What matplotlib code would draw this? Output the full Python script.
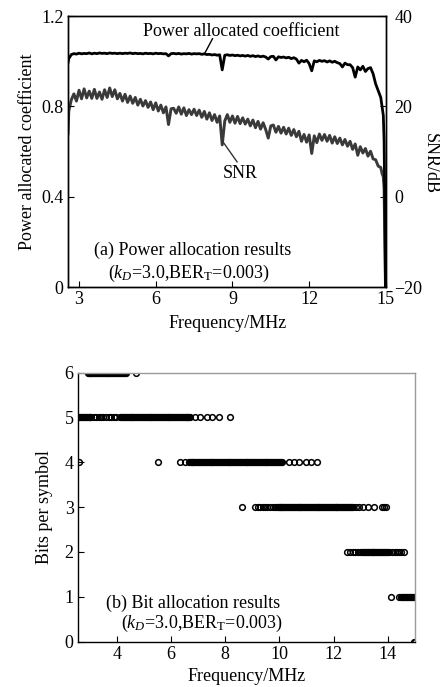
import numpy as np
import matplotlib
matplotlib.use("Agg")
import matplotlib.pyplot as plt

plt.rcParams["font.family"] = ["Liberation Serif", "DejaVu Serif"]
plt.rcParams["mathtext.fontset"] = "custom"
plt.rcParams["mathtext.rm"] = "Liberation Serif"
plt.rcParams["mathtext.it"] = "Liberation Serif:italic"
plt.rcParams["font.size"] = 13

# ---- (a) power allocation: curves read on a 0.1 MHz grid (2.6 .. 14.5) ----
grid_start, grid_stop, grid_step = 2.6, 14.5, 0.1
head_freq = [2.57]
tail_freq = [14.6, 14.7, 14.8, 14.85, 14.9, 14.93, 14.96, 14.985]

power_head = [0.995]
power_grid = [
    1.012, 1.030, 1.034, 1.032, 1.036, 1.033, 1.035, 1.034, 1.037, 1.033,
    1.036, 1.034, 1.037, 1.035, 1.036, 1.034, 1.037, 1.035, 1.036, 1.034,
    1.036, 1.034, 1.036, 1.035, 1.037, 1.034, 1.036, 1.034, 1.035, 1.033,
    1.036, 1.034, 1.035, 1.033, 1.036, 1.034, 1.035, 1.033, 1.034, 1.024,
    1.034, 1.035, 1.033, 1.035, 1.032, 1.034, 1.033, 1.035, 1.032, 1.034,
    1.033, 1.034, 1.031, 1.033, 1.030, 1.031, 1.028, 1.030, 1.027, 1.029,
    0.962, 1.027, 1.029, 1.026, 1.028, 1.025, 1.027, 1.024, 1.026, 1.023,
    1.026, 1.022, 1.025, 1.021, 1.024, 1.020, 1.023, 1.019, 1.010, 1.021,
    1.022, 1.006, 1.020, 1.017, 1.019, 1.015, 1.018, 1.012, 1.016, 1.010,
    0.992, 1.004, 0.998, 1.005, 0.990, 0.958, 1.002, 0.998, 1.004, 1.000,
    1.003, 0.997, 1.002, 0.996, 1.000, 0.994, 0.990, 0.975, 0.992, 0.985,
    0.985, 0.972, 0.930, 0.975, 0.962, 0.978, 0.955, 0.968, 0.972, 0.945,
]
power_tail = [0.90, 0.87, 0.84, 0.80, 0.76, 0.65, 0.35, 0.0]

snr_head = [14.0]
snr_grid = [
    19.0, 21.5, 22.8, 21.2, 23.6, 21.7, 23.9, 21.9, 23.4, 21.8,
    23.8, 21.8, 23.2, 21.6, 23.7, 22.0, 24.1, 22.2, 23.7, 21.7,
    22.9, 21.2, 22.7, 20.9, 22.3, 20.7, 22.0, 20.3, 21.6, 20.1,
    21.3, 19.8, 21.0, 19.3, 20.8, 19.0, 20.3, 18.6, 19.9, 16.0,
    19.5, 19.6, 18.5, 19.9, 18.3, 19.7, 18.0, 19.3, 18.2, 19.4,
    18.0, 19.2, 17.6, 18.9, 17.2, 18.6, 16.9, 18.2, 16.5, 17.9,
    11.5, 16.8, 18.2, 16.5, 17.9, 16.3, 17.8, 16.2, 17.5, 16.1,
    17.2, 15.7, 17.0, 15.3, 16.7, 15.0, 16.4, 14.9, 13.0, 15.7,
    15.9, 14.3, 15.6, 14.1, 15.4, 13.9, 15.2, 13.6, 14.9, 13.3,
    14.5, 12.3, 13.8, 12.1, 13.7, 9.6, 13.5, 12.0, 13.9, 12.5,
    13.8, 12.3, 13.6, 11.9, 13.3, 11.8, 13.0, 11.5, 12.7, 11.2,
    12.3, 10.5, 11.7, 9.2, 11.1, 9.7, 10.7, 9.0, 10.1, 8.4,
]
snr_tail = [8.2, 6.8, 6.5, 5.2, 4.4, 2.0, -10.0, -20.0]

# ---- (b) bit allocation ----
subcarrier_step = 0.035
# dense runs of subcarriers: (bits, start MHz, end MHz)
bit_runs = [
    (6, 2.92, 4.35),
    (5, 2.57, 3.07),
    (5, 4.12, 6.71),
    (4, 6.65, 10.1),
    (3, 9.9, 12.7),
    (2, 13.05, 14.05),
    (1, 14.5, 15.0),
]
# isolated subcarriers per bit level
bit_points = {
    6: [4.69],
    5: [3.15, 3.24, 3.33, 3.42, 3.5, 3.6, 3.7, 3.8, 3.9, 3.98,
        6.89, 7.08, 7.33, 7.51, 7.76, 8.16],
    4: [2.6, 5.50, 6.34, 6.5, 10.35, 10.54, 10.72, 10.97, 11.15, 11.37],
    3: [8.60, 9.09, 9.2, 9.3, 9.38, 9.47, 9.55, 9.65, 9.75, 9.84,
        12.82, 12.95, 13.07, 13.25, 13.5, 13.77, 13.85, 13.93],
    2: [12.51, 12.6, 12.7, 12.8, 12.9, 12.97, 14.15, 14.25, 14.33,
        14.42, 14.5, 14.6],
    1: [14.12, 14.43],
    0: [14.97, 15.0],
}


def main():
    grid = np.round(np.arange(grid_start, grid_stop + 1e-9, grid_step), 2)
    freq = np.concatenate([head_freq, grid, tail_freq])
    power = np.array(power_head + power_grid + power_tail)
    snr = np.array(snr_head + snr_grid + snr_tail)

    fig = plt.figure(figsize=(4.4, 6.87), dpi=100)

    # -------- (a) --------
    ax = fig.add_axes([0.154, 0.582, 0.723, 0.3945])
    ax2 = ax.twinx()
    ax2.plot(freq, snr, color="#3a3a3a", lw=2.1)
    ax.plot(freq, power, color="black", lw=2.0, zorder=3)
    ax.set_zorder(ax2.get_zorder() + 1)
    ax.patch.set_visible(False)

    ax.set_xlim(2.56, 15.0)
    ax.set_ylim(0, 1.2)
    ax2.set_ylim(-20, 40)
    ax.set_xticks([3, 6, 9, 12, 15])
    ax.set_yticks([0, 0.4, 0.8, 1.2])
    ax.set_yticklabels(["0", "0.4", "0.8", "1.2"])
    ax2.set_yticks([-20, 0, 20, 40])
    ax.tick_params(direction="in", length=4, width=0.8, pad=3)
    ax2.tick_params(direction="in", length=4, width=0.8, pad=6)
    for a in (ax, ax2):
        for s in a.spines.values():
            s.set_linewidth(1.0)

    ax.set_xlabel("Frequency/MHz", va="center")
    ax.xaxis.set_label_coords(0.504, -0.133)
    ax.set_ylabel("Power allocated coefficient", va="center")
    ax.yaxis.set_label_coords(-0.128, 0.5)
    ax2.set_ylabel("SNR/dB", rotation=270, va="center")
    ax2.yaxis.set_label_coords(1.139, 0.458)

    # curve labels with short leader lines
    ax.text(9.33, 1.13, "Power allocated coefficient", ha="center", va="center")
    ax.plot([8.22, 7.92], [1.10, 1.036], color="black", lw=1.0)
    ax.text(9.29, 0.503, "SNR", ha="center", va="center")
    ax.plot([9.18, 8.62], [0.555, 0.645], color="#333333", lw=1.0)

    ax.text(7.43, 0.164, "(a) Power allocation results",
            ha="center", va="center")
    ax.text(7.31, 0.062, r"($k_D$=3.0,BER$_\mathrm{T}$=0.003)",
            ha="center", va="center")

    # -------- (b) --------
    bx = fig.add_axes([0.177, 0.066, 0.766, 0.3916])
    for level, f0, f1 in bit_runs:
        f = np.arange(f0, f1 + 1e-9, subcarrier_step)
        bx.plot(f, np.full(len(f), level), "o", ms=4.1, mfc="none",
                mec="black", mew=1.1)
    for level, pts in bit_points.items():
        bx.plot(pts, [level] * len(pts), "o", ms=4.1, mfc="none",
                mec="black", mew=1.1)

    bx.set_xlim(2.56, 15.0)
    bx.set_ylim(0, 6)
    bx.set_xticks([4, 6, 8, 10, 12, 14])
    bx.set_yticks(range(7))
    bx.tick_params(direction="in", length=4, width=0.8, pad=3)
    for s in bx.spines.values():
        s.set_linewidth(1.0)
    bx.spines["top"].set_color("#9a9a9a")
    bx.spines["right"].set_color("#9a9a9a")

    bx.set_xlabel("Frequency/MHz", va="center")
    bx.xaxis.set_label_coords(0.5, -0.13)
    bx.set_ylabel("Bits per symbol", va="center")
    bx.yaxis.set_label_coords(-0.098, 0.502)

    bx.text(6.82, 0.86, "(b) Bit allocation results",
            ha="center", va="center")
    bx.text(7.13, 0.417, r"($k_D$=3.0,BER$_\mathrm{T}$=0.003)",
            ha="center", va="center")

    fig.savefig("out.png", dpi=100)
    plt.close(fig)


if __name__ == "__main__":
    main()
